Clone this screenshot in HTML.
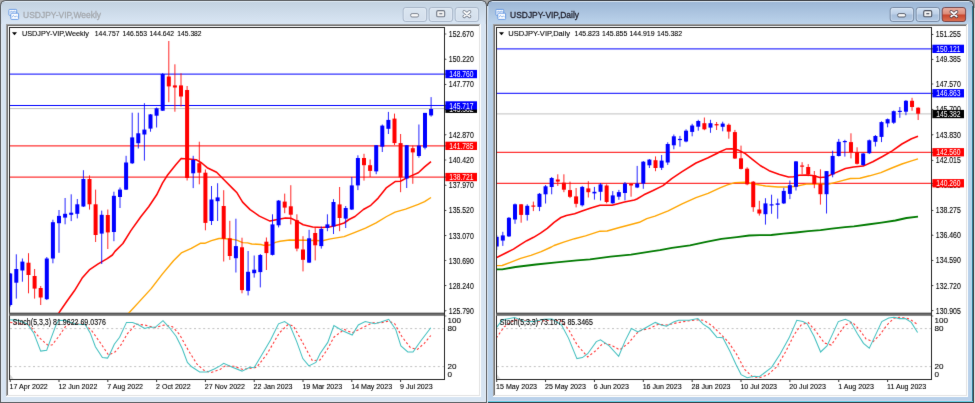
<!DOCTYPE html>
<html><head><meta charset="utf-8"><title>MT4 charts</title>
<style>html,body{margin:0;padding:0;background:#a9a9a9;width:975px;height:403px;overflow:hidden}</style>
</head><body><div>
<svg width="975" height="403" viewBox="0 0 975 403" style="display:block;font-family:'Liberation Sans',Arial,sans-serif">
<defs><filter id="bl" color-interpolation-filters="sRGB" x="0" y="0" width="1" height="1"><feConvolveMatrix order="3" edgeMode="duplicate" preserveAlpha="true" kernelMatrix="0.00524 0.06192 0.00524 0.06192 0.73137 0.06192 0.00524 0.06192 0.00524"/></filter></defs><g filter="url(#bl)">
<rect width="975" height="403" fill="#a9a9a9"/>
<defs><linearGradient id="tg0" x1="0" y1="0" x2="0" y2="1"><stop offset="0" stop-color="#c3d2e1"/><stop offset="1" stop-color="#d9e6f4"/></linearGradient></defs>
<path d="M0,403 L0,6 Q0,0 6,0 L481,0 Q487,0 487,6 L487,403 Z" fill="#5a5d60"/>
<path d="M1,402 L1,6.5 Q1,1 6.5,1 L480.5,1 Q486,1 486,6.5 L486,402 Z" fill="#d7e4f2"/>
<rect x="2" y="2" width="483" height="22" fill="url(#tg0)"/>
<rect x="5" y="1" width="477" height="1" fill="#e4eef8" opacity="0.8"/>
<rect x="485" y="24" width="1" height="378" fill="#e6eef8"/>
<rect x="1" y="24" width="1" height="378" fill="#e6eef8"/>
<rect x="1" y="401" width="485" height="1" fill="#e6eef8"/>
<rect x="6" y="24" width="475" height="373" fill="#ffffff"/>
<rect x="6" y="24" width="474" height="372" fill="#a0a0a0"/>
<rect x="7" y="25" width="473" height="371" fill="#e3e3e3"/>
<rect x="7" y="25" width="472" height="370" fill="#6e6e6e"/>
<rect x="8" y="26" width="471" height="369" fill="#ffffff"/>
<g transform="translate(8.4,8.9)" stroke-width="0.9">
<rect x="0.5" y="0.5" width="7.8" height="6" rx="0.8" fill="#ffffff" stroke="#5c93e2"/>
<path d="M1.5,3.5 L3,2.5 L4.5,3.2 L6,2.4 L7.3,3" fill="none" stroke="#5c93e2" stroke-width="0.8"/>
<rect x="2.4" y="4.3" width="7.8" height="6.2" rx="0.8" fill="#ffffff" stroke="#5c93e2"/>
<path d="M3.5,8.5 L5,6.5 L6.5,8.2 L8,7 L9.3,8.4" fill="none" stroke="#7aa8ea" stroke-width="0.8"/>
</g>
<text x="23.1" y="18.4" font-size="9.6" fill="#a3a7ac" textLength="77.9" lengthAdjust="spacingAndGlyphs" stroke="#a3a7ac" stroke-width="0.3">USDJPY-VIP,Weekly</text>
<defs><linearGradient id="bgi" x1="0" y1="0" x2="0" y2="1"><stop offset="0" stop-color="#dbe5f0"/><stop offset="1" stop-color="#d3dfec"/></linearGradient></defs>
<rect x="403.2" y="7.5" width="23.4" height="14" rx="2.5" fill="url(#bgi)" stroke="#a3b1c4" stroke-width="0.9"/>
<rect x="404.2" y="8.5" width="21.4" height="12" rx="1.8" fill="none" stroke="#eef4fb" stroke-opacity="0.6" stroke-width="0.6"/>
<rect x="410.6" y="13.6" width="8" height="3.4" rx="1.5" fill="#fafafa" stroke="#6f7785" stroke-width="0.9"/>
<defs><linearGradient id="bgi" x1="0" y1="0" x2="0" y2="1"><stop offset="0" stop-color="#dbe5f0"/><stop offset="1" stop-color="#d3dfec"/></linearGradient></defs>
<rect x="429.2" y="7.5" width="23.4" height="14" rx="2.5" fill="url(#bgi)" stroke="#a3b1c4" stroke-width="0.9"/>
<rect x="430.2" y="8.5" width="21.4" height="12" rx="1.8" fill="none" stroke="#eef4fb" stroke-opacity="0.6" stroke-width="0.6"/>
<rect x="436.7" y="10.6" width="8" height="6.2" rx="1.4" fill="#f4f4f4" stroke="#6f7785" stroke-width="1.1"/>
<rect x="439.3" y="13.1" width="3" height="1.2" fill="#6f7785"/>
<defs><linearGradient id="bgi" x1="0" y1="0" x2="0" y2="1"><stop offset="0" stop-color="#dbe5f0"/><stop offset="1" stop-color="#d3dfec"/></linearGradient></defs>
<rect x="455.2" y="7.5" width="23.4" height="14" rx="2.5" fill="url(#bgi)" stroke="#a3b1c4" stroke-width="0.9"/>
<rect x="456.2" y="8.5" width="21.4" height="12" rx="1.8" fill="none" stroke="#eef4fb" stroke-opacity="0.6" stroke-width="0.6"/>
<path d="M464.2,11.8 L469.6,16.4 M469.6,11.8 L464.2,16.4" stroke="#6f7785" stroke-width="3.4" stroke-linecap="round"/>
<path d="M464.2,11.8 L469.6,16.4 M469.6,11.8 L464.2,16.4" stroke="#ffffff" stroke-width="1.9" stroke-linecap="round"/>
<defs><linearGradient id="tg487" x1="0" y1="0" x2="0" y2="1"><stop offset="0" stop-color="#9db7d6"/><stop offset="1" stop-color="#bcd3eb"/></linearGradient></defs>
<path d="M487,403 L487,6 Q487,0 493,0 L968,0 Q974,0 974,6 L974,403 Z" fill="#3a3d42"/>
<path d="M488,402 L488,6.5 Q488,1 493.5,1 L967.5,1 Q973,1 973,6.5 L973,402 Z" fill="#b9d1ea"/>
<rect x="489" y="2" width="483" height="22" fill="url(#tg487)"/>
<rect x="492" y="1" width="477" height="1" fill="#e4eef8" opacity="0.8"/>
<rect x="971" y="24" width="1" height="378" fill="#b4def6"/>
<rect x="972" y="6" width="1" height="396" fill="#2a7890"/>
<rect x="488" y="400" width="484" height="1" fill="#cfd2ea"/>
<rect x="488" y="401" width="485" height="1" fill="#62d6ee"/>
<rect x="487" y="6" width="1" height="397" fill="#dde7f1"/>
<rect x="493" y="24" width="475" height="373" fill="#ffffff"/>
<rect x="493" y="24" width="474" height="372" fill="#a0a0a0"/>
<rect x="494" y="25" width="473" height="371" fill="#e3e3e3"/>
<rect x="494" y="25" width="472" height="370" fill="#6e6e6e"/>
<rect x="495" y="26" width="471" height="369" fill="#ffffff"/>
<g transform="translate(495.4,8.9)" stroke-width="0.9">
<rect x="0.5" y="0.5" width="7.8" height="6" rx="0.8" fill="#ffffff" stroke="#5c93e2"/>
<path d="M1.5,3.5 L3,2.5 L4.5,3.2 L6,2.4 L7.3,3" fill="none" stroke="#5c93e2" stroke-width="0.8"/>
<rect x="2.4" y="4.3" width="7.8" height="6.2" rx="0.8" fill="#ffffff" stroke="#5c93e2"/>
<path d="M3.5,8.5 L5,6.5 L6.5,8.2 L8,7 L9.3,8.4" fill="none" stroke="#7aa8ea" stroke-width="0.8"/>
</g>
<text x="510.1" y="18.4" font-size="9.6" fill="#20202c" textLength="68.9" lengthAdjust="spacingAndGlyphs" stroke="#20202c" stroke-width="0.3">USDJPY-VIP,Daily</text>
<defs><linearGradient id="bga" x1="0" y1="0" x2="0" y2="1"><stop offset="0" stop-color="#d2e1f2"/><stop offset="0.48" stop-color="#bccfe7"/><stop offset="0.52" stop-color="#a6bedb"/><stop offset="1" stop-color="#b4cae4"/></linearGradient></defs>
<rect x="890.2" y="7.5" width="23.4" height="14" rx="2.5" fill="url(#bga)" stroke="#71829c" stroke-width="0.9"/>
<rect x="891.2" y="8.5" width="21.4" height="12" rx="1.8" fill="none" stroke="#eef4fb" stroke-opacity="0.6" stroke-width="0.6"/>
<rect x="897.6" y="13.6" width="8" height="3.4" rx="1.5" fill="#fafafa" stroke="#4a505e" stroke-width="0.9"/>
<defs><linearGradient id="bga" x1="0" y1="0" x2="0" y2="1"><stop offset="0" stop-color="#d2e1f2"/><stop offset="0.48" stop-color="#bccfe7"/><stop offset="0.52" stop-color="#a6bedb"/><stop offset="1" stop-color="#b4cae4"/></linearGradient></defs>
<rect x="916.2" y="7.5" width="23.4" height="14" rx="2.5" fill="url(#bga)" stroke="#71829c" stroke-width="0.9"/>
<rect x="917.2" y="8.5" width="21.4" height="12" rx="1.8" fill="none" stroke="#eef4fb" stroke-opacity="0.6" stroke-width="0.6"/>
<rect x="923.7" y="10.6" width="8" height="6.2" rx="1.4" fill="#f4f4f4" stroke="#4a505e" stroke-width="1.1"/>
<rect x="926.3" y="13.1" width="3" height="1.2" fill="#4a505e"/>
<defs><linearGradient id="cg" x1="0" y1="0" x2="0" y2="1"><stop offset="0" stop-color="#eab0a3"/><stop offset="0.48" stop-color="#dc8a77"/><stop offset="0.52" stop-color="#c8442b"/><stop offset="1" stop-color="#dc7356"/></linearGradient></defs>
<rect x="942.2" y="7.5" width="23.4" height="14" rx="2.5" fill="url(#cg)" stroke="#6b3a3e" stroke-width="0.9"/>
<path d="M951.2,11.8 L956.6,16.4 M956.6,11.8 L951.2,16.4" stroke="#4b3a44" stroke-width="3.4" stroke-linecap="round"/>
<path d="M951.2,11.8 L956.6,16.4 M956.6,11.8 L951.2,16.4" stroke="#ffffff" stroke-width="1.9" stroke-linecap="round"/>
<rect x="974" y="8" width="1" height="395" fill="#e2e2e2"/>
<defs><clipPath id="cl0"><rect x="10" y="28" width="434" height="285"/></clipPath>
<clipPath id="scl0"><rect x="10" y="316" width="434" height="63"/></clipPath></defs>
<g shape-rendering="crispEdges">
<rect x="9" y="27" width="1" height="353" fill="#262626"/>
<rect x="9" y="27" width="435" height="1" fill="#262626"/>
<rect x="444" y="27" width="1" height="353" fill="#262626"/>
<rect x="9" y="379" width="436" height="1" fill="#262626"/>
</g>
<rect x="9" y="312.8" width="435" height="3" fill="#6c6c6c"/>
<rect x="9" y="312.8" width="435" height="0.9" fill="#4a4a4a"/>
<g clip-path="url(#cl0)">
<rect x="9" y="108.1" width="435" height="1" fill="#c0c0c0"/>
<rect x="9" y="73.6" width="435" height="1" fill="#0000ff"/>
<rect x="9" y="105" width="435" height="1" fill="#0000ff"/>
<rect x="9" y="145.4" width="435" height="1" fill="#ff0000"/>
<rect x="9" y="176.6" width="435" height="1" fill="#ff0000"/>
</g>
<g clip-path="url(#cl0)" fill="none" stroke-linejoin="round">
<polyline points="127,315 140,300.9 151.2,288.6 162.3,274.1 173.5,260.7 181.3,252.9 191.3,248.4 200.3,243.3 204.7,243.3 211.4,240.6 219,238.5 223.1,238.5 234.4,239.6 237.4,240.4 242.6,242.6 247.7,242.9 251.8,244 261,244.5 263.1,245.2 270.3,245 275.4,242.4 280,241.2 289.6,240 305.9,240.3 322.3,240.7 330.5,238.9 344.1,236.6 355,232.3 365.5,228.1 376.1,222.8 386.6,216.5 395.1,212.2 405.6,209.1 418.3,204.4 424.6,201.7 431,197.5" stroke="#ffa500" stroke-width="1.4"/>
<polyline points="58.7,313.1 66.9,301.2 74.4,290.8 82.6,277.4 89.3,269.9 98.2,263.9 107.2,258.7 112.4,255 115,251.4 122.9,243.5 130.9,230.6 140.8,216.7 148.7,206.7 156.7,194.8 162.6,182.9 167.6,175 175.6,164.9 181.2,158.4 188.6,158.9 196.1,159.7 201.7,163 207.2,167.7 216.6,172.3 224,179.8 233.3,189.1 237,192.8 242.6,202.1 250.1,209.6 259.4,216.1 270,221.1 278.6,219.3 285.5,217.9 290.9,218.2 296.4,220.9 303.2,224.7 312.7,227.1 322.3,227.5 330.5,226.7 338.7,224.7 344.1,223 349,219.5 355,216.5 363.4,209.5 370.8,205.3 378.2,198.1 386.6,187.6 395.1,181.6 400.4,181.2 407.7,177.4 418.3,172.8 424.6,166.9 431,161.6" stroke="#ff0000" stroke-width="1.55"/>
</g>
<g clip-path="url(#cl0)">
<rect x="9.7" y="273" width="1" height="33.5" fill="#0000ff" opacity="0.85"/>
<rect x="8.2" y="273.5" width="4" height="31.5" fill="#0000ff"/>
<rect x="15.8" y="254.3" width="1" height="44.3" fill="#0000ff" opacity="0.85"/>
<rect x="14.3" y="269" width="4" height="13.7" fill="#0000ff"/>
<rect x="21.9" y="258.5" width="1" height="23.2" fill="#0000ff" opacity="0.85"/>
<rect x="20.4" y="261.6" width="4" height="8.9" fill="#0000ff"/>
<rect x="28" y="253.2" width="1" height="40.1" fill="#ff0000" opacity="0.85"/>
<rect x="26.5" y="262.7" width="4" height="12.3" fill="#ff0000"/>
<rect x="34.1" y="269" width="1" height="29.6" fill="#ff0000" opacity="0.85"/>
<rect x="32.6" y="276" width="4" height="12.6" fill="#ff0000"/>
<rect x="40.2" y="286" width="1" height="19" fill="#ff0000" opacity="0.85"/>
<rect x="38.7" y="288" width="4" height="9.5" fill="#ff0000"/>
<rect x="46.3" y="257" width="1" height="43" fill="#0000ff" opacity="0.85"/>
<rect x="44.8" y="258.5" width="4" height="40.7" fill="#0000ff"/>
<rect x="52.4" y="219.7" width="1" height="43.6" fill="#0000ff" opacity="0.85"/>
<rect x="50.9" y="222.2" width="4" height="36.3" fill="#0000ff"/>
<rect x="58.5" y="210" width="1" height="42.8" fill="#0000ff" opacity="0.85"/>
<rect x="57" y="215.9" width="4" height="7.3" fill="#0000ff"/>
<rect x="64.6" y="198" width="1" height="26.3" fill="#0000ff" opacity="0.85"/>
<rect x="63.1" y="213.8" width="4" height="3.8" fill="#0000ff"/>
<rect x="70.7" y="194.3" width="1" height="26.8" fill="#0000ff" opacity="0.85"/>
<rect x="69.2" y="212.7" width="4" height="2.1" fill="#0000ff"/>
<rect x="76.8" y="199" width="1" height="19.4" fill="#0000ff" opacity="0.85"/>
<rect x="75.3" y="204.3" width="4" height="9.5" fill="#0000ff"/>
<rect x="82.9" y="170.2" width="1" height="36.8" fill="#0000ff" opacity="0.85"/>
<rect x="81.4" y="179" width="4" height="27.5" fill="#0000ff"/>
<rect x="89" y="175.4" width="1" height="34.2" fill="#ff0000" opacity="0.85"/>
<rect x="87.5" y="179" width="4" height="25.3" fill="#ff0000"/>
<rect x="95.1" y="189.6" width="1" height="52.4" fill="#ff0000" opacity="0.85"/>
<rect x="93.6" y="204.3" width="4" height="30.7" fill="#ff0000"/>
<rect x="101.2" y="210.6" width="1" height="53.4" fill="#0000ff" opacity="0.85"/>
<rect x="99.7" y="214.8" width="4" height="18.8" fill="#0000ff"/>
<rect x="107.3" y="209.5" width="1" height="39.5" fill="#ff0000" opacity="0.85"/>
<rect x="105.8" y="215" width="4" height="17.4" fill="#ff0000"/>
<rect x="113.4" y="191.7" width="1" height="49.5" fill="#0000ff" opacity="0.85"/>
<rect x="111.9" y="195.8" width="4" height="36.2" fill="#0000ff"/>
<rect x="119.5" y="187.5" width="1" height="20.5" fill="#0000ff" opacity="0.85"/>
<rect x="118" y="189.6" width="4" height="7.4" fill="#0000ff"/>
<rect x="125.6" y="155.8" width="1" height="34.2" fill="#0000ff" opacity="0.85"/>
<rect x="124.1" y="162.5" width="4" height="27.1" fill="#0000ff"/>
<rect x="131.7" y="112.7" width="1" height="51.3" fill="#0000ff" opacity="0.85"/>
<rect x="130.2" y="137.4" width="4" height="25.9" fill="#0000ff"/>
<rect x="137.8" y="112.7" width="1" height="35.8" fill="#0000ff" opacity="0.85"/>
<rect x="136.3" y="133.3" width="4" height="9.9" fill="#0000ff"/>
<rect x="143.9" y="103.2" width="1" height="57.4" fill="#0000ff" opacity="0.85"/>
<rect x="142.4" y="129.6" width="4" height="4.9" fill="#0000ff"/>
<rect x="150" y="114" width="1" height="17.7" fill="#0000ff" opacity="0.85"/>
<rect x="148.5" y="114.4" width="4" height="14.2" fill="#0000ff"/>
<rect x="156.1" y="107.5" width="1" height="20" fill="#0000ff" opacity="0.85"/>
<rect x="154.6" y="108.3" width="4" height="7.4" fill="#0000ff"/>
<rect x="162.2" y="73" width="1" height="38" fill="#0000ff" opacity="0.85"/>
<rect x="160.7" y="74" width="4" height="36.7" fill="#0000ff"/>
<rect x="168.3" y="41" width="1" height="61.2" fill="#ff0000" opacity="0.85"/>
<rect x="166.8" y="76.5" width="4" height="9.9" fill="#ff0000"/>
<rect x="174.4" y="64.3" width="1" height="47.4" fill="#ff0000" opacity="0.85"/>
<rect x="172.9" y="85.4" width="4" height="2.1" fill="#ff0000"/>
<rect x="180.5" y="73.3" width="1" height="33.2" fill="#ff0000" opacity="0.85"/>
<rect x="179" y="85.4" width="4" height="11.1" fill="#ff0000"/>
<rect x="186.6" y="86" width="1" height="94.5" fill="#ff0000" opacity="0.85"/>
<rect x="185.1" y="90" width="4" height="88" fill="#ff0000"/>
<rect x="192.7" y="155.8" width="1" height="32.3" fill="#0000ff" opacity="0.85"/>
<rect x="191.2" y="160" width="4" height="13.3" fill="#0000ff"/>
<rect x="198.8" y="141.7" width="1" height="42.6" fill="#ff0000" opacity="0.85"/>
<rect x="197.3" y="163.2" width="4" height="9.5" fill="#ff0000"/>
<rect x="204.9" y="169.5" width="1" height="60.8" fill="#ff0000" opacity="0.85"/>
<rect x="203.4" y="172.7" width="4" height="50.2" fill="#ff0000"/>
<rect x="211" y="186" width="1" height="39" fill="#0000ff" opacity="0.85"/>
<rect x="209.5" y="199.5" width="4" height="21.5" fill="#0000ff"/>
<rect x="217.1" y="183.2" width="1" height="37.8" fill="#0000ff" opacity="0.85"/>
<rect x="215.6" y="197.4" width="4" height="3.8" fill="#0000ff"/>
<rect x="223.2" y="190.2" width="1" height="71.3" fill="#ff0000" opacity="0.85"/>
<rect x="221.7" y="206" width="4" height="32.8" fill="#ff0000"/>
<rect x="229.3" y="220.8" width="1" height="39.1" fill="#ff0000" opacity="0.85"/>
<rect x="227.8" y="238.3" width="4" height="17.7" fill="#ff0000"/>
<rect x="235.4" y="218.7" width="1" height="53.8" fill="#0000ff" opacity="0.85"/>
<rect x="233.9" y="246.1" width="4" height="12.1" fill="#0000ff"/>
<rect x="241.5" y="237.7" width="1" height="55.6" fill="#ff0000" opacity="0.85"/>
<rect x="240" y="247.3" width="4" height="42.8" fill="#ff0000"/>
<rect x="247.6" y="251" width="1" height="44.4" fill="#0000ff" opacity="0.85"/>
<rect x="246.1" y="271.8" width="4" height="19" fill="#0000ff"/>
<rect x="253.7" y="255.5" width="1" height="22.1" fill="#0000ff" opacity="0.85"/>
<rect x="252.2" y="269.7" width="4" height="3.5" fill="#0000ff"/>
<rect x="259.8" y="254" width="1" height="33.4" fill="#0000ff" opacity="0.85"/>
<rect x="258.3" y="255" width="4" height="17.1" fill="#0000ff"/>
<rect x="265.9" y="237.5" width="1" height="32.5" fill="#ff0000" opacity="0.85"/>
<rect x="264.4" y="241.7" width="4" height="11.4" fill="#ff0000"/>
<rect x="272" y="214.3" width="1" height="41.2" fill="#0000ff" opacity="0.85"/>
<rect x="270.5" y="224.4" width="4" height="30.5" fill="#0000ff"/>
<rect x="278.1" y="200" width="1" height="27.4" fill="#0000ff" opacity="0.85"/>
<rect x="276.6" y="200.6" width="4" height="24.7" fill="#0000ff"/>
<rect x="284.2" y="193.6" width="1" height="19.6" fill="#ff0000" opacity="0.85"/>
<rect x="282.7" y="201.6" width="4" height="6" fill="#ff0000"/>
<rect x="290.3" y="185.2" width="1" height="39.2" fill="#ff0000" opacity="0.85"/>
<rect x="288.8" y="206.3" width="4" height="8.4" fill="#ff0000"/>
<rect x="296.4" y="214.3" width="1" height="37" fill="#ff0000" opacity="0.85"/>
<rect x="294.9" y="220.2" width="4" height="28.4" fill="#ff0000"/>
<rect x="302.5" y="236.2" width="1" height="35.2" fill="#ff0000" opacity="0.85"/>
<rect x="301" y="249.5" width="4" height="10.3" fill="#ff0000"/>
<rect x="308.6" y="229.8" width="1" height="33.2" fill="#0000ff" opacity="0.85"/>
<rect x="307.1" y="238.3" width="4" height="24.3" fill="#0000ff"/>
<rect x="314.7" y="227.4" width="1" height="33" fill="#ff0000" opacity="0.85"/>
<rect x="313.2" y="233" width="4" height="12.3" fill="#ff0000"/>
<rect x="320.8" y="226.5" width="1" height="22.1" fill="#0000ff" opacity="0.85"/>
<rect x="319.3" y="229" width="4" height="17.1" fill="#0000ff"/>
<rect x="326.9" y="214.3" width="1" height="16.9" fill="#0000ff" opacity="0.85"/>
<rect x="325.4" y="224.4" width="4" height="3.6" fill="#0000ff"/>
<rect x="333" y="199.2" width="1" height="34.8" fill="#0000ff" opacity="0.85"/>
<rect x="331.5" y="202" width="4" height="24.5" fill="#0000ff"/>
<rect x="339.1" y="187" width="1" height="44.2" fill="#ff0000" opacity="0.85"/>
<rect x="337.6" y="204.4" width="4" height="13.6" fill="#ff0000"/>
<rect x="345.2" y="206" width="1" height="22" fill="#0000ff" opacity="0.85"/>
<rect x="343.7" y="208" width="4" height="10.6" fill="#0000ff"/>
<rect x="351.3" y="177" width="1" height="33" fill="#0000ff" opacity="0.85"/>
<rect x="349.8" y="185.4" width="4" height="24.1" fill="#0000ff"/>
<rect x="357.4" y="155.3" width="1" height="34.8" fill="#0000ff" opacity="0.85"/>
<rect x="355.9" y="158" width="4" height="27.4" fill="#0000ff"/>
<rect x="363.5" y="153.8" width="1" height="26.8" fill="#ff0000" opacity="0.85"/>
<rect x="362" y="158" width="4" height="7.2" fill="#ff0000"/>
<rect x="369.6" y="159.5" width="1" height="17.5" fill="#ff0000" opacity="0.85"/>
<rect x="368.1" y="165.2" width="4" height="5.7" fill="#ff0000"/>
<rect x="375.7" y="145" width="1" height="29.2" fill="#0000ff" opacity="0.85"/>
<rect x="374.2" y="145.2" width="4" height="26.2" fill="#0000ff"/>
<rect x="381.8" y="124.5" width="1" height="27.5" fill="#0000ff" opacity="0.85"/>
<rect x="380.3" y="125.6" width="4" height="21.1" fill="#0000ff"/>
<rect x="387.9" y="111.9" width="1" height="22.1" fill="#0000ff" opacity="0.85"/>
<rect x="386.4" y="119.9" width="4" height="8.9" fill="#0000ff"/>
<rect x="394" y="113.6" width="1" height="31.4" fill="#ff0000" opacity="0.85"/>
<rect x="392.5" y="118.6" width="4" height="24.5" fill="#ff0000"/>
<rect x="400.1" y="134" width="1" height="58.2" fill="#ff0000" opacity="0.85"/>
<rect x="398.6" y="143.1" width="4" height="34.3" fill="#ff0000"/>
<rect x="406.2" y="145" width="1" height="43" fill="#0000ff" opacity="0.85"/>
<rect x="404.7" y="145.2" width="4" height="33.3" fill="#0000ff"/>
<rect x="412.3" y="145.6" width="1" height="38.2" fill="#ff0000" opacity="0.85"/>
<rect x="410.8" y="148.2" width="4" height="4.2" fill="#ff0000"/>
<rect x="418.4" y="124.5" width="1" height="33.2" fill="#0000ff" opacity="0.85"/>
<rect x="416.9" y="145.6" width="4" height="10.4" fill="#0000ff"/>
<rect x="424.5" y="112.9" width="1" height="36.5" fill="#0000ff" opacity="0.85"/>
<rect x="423" y="112.9" width="4" height="34.8" fill="#0000ff"/>
<rect x="430.6" y="97.1" width="1" height="19.5" fill="#0000ff" opacity="0.85"/>
<rect x="429.1" y="109" width="4" height="6.4" fill="#0000ff"/>
</g>
<path d="M12,32.2 h5 l-2.5,3 z" fill="#000"/>
<text x="21.9" y="36.3" font-size="8.1" fill="#000" textLength="67.1" lengthAdjust="spacingAndGlyphs" stroke="#000" stroke-width="0.1">USDJPY-VIP,Weekly</text>
<text x="94.8" y="36.3" font-size="8.1" fill="#000" textLength="24.7" lengthAdjust="spacingAndGlyphs" stroke="#000" stroke-width="0.1">144.757</text>
<text x="122.5" y="36.3" font-size="8.1" fill="#000" textLength="24.5" lengthAdjust="spacingAndGlyphs" stroke="#000" stroke-width="0.1">146.553</text>
<text x="149.6" y="36.3" font-size="8.1" fill="#000" textLength="24.5" lengthAdjust="spacingAndGlyphs" stroke="#000" stroke-width="0.1">144.642</text>
<text x="177.3" y="36.3" font-size="8.1" fill="#000" textLength="24.3" lengthAdjust="spacingAndGlyphs" stroke="#000" stroke-width="0.1">145.382</text>
<path d="M444.8,33.4 l2.2,0.6 l-2.2,0.6 z" fill="#222"/>
<text x="448.8" y="37" font-size="8.3" fill="#000" textLength="25" lengthAdjust="spacingAndGlyphs" stroke="#000" stroke-width="0.1">152.670</text>
<path d="M444.8,58.6 l2.2,0.6 l-2.2,0.6 z" fill="#222"/>
<text x="448.8" y="62.2" font-size="8.3" fill="#000" textLength="25" lengthAdjust="spacingAndGlyphs" stroke="#000" stroke-width="0.1">150.220</text>
<path d="M444.8,83.8 l2.2,0.6 l-2.2,0.6 z" fill="#222"/>
<text x="448.8" y="87.4" font-size="8.3" fill="#000" textLength="25" lengthAdjust="spacingAndGlyphs" stroke="#000" stroke-width="0.1">147.770</text>
<path d="M444.8,134.2 l2.2,0.6 l-2.2,0.6 z" fill="#222"/>
<text x="448.8" y="137.8" font-size="8.3" fill="#000" textLength="25" lengthAdjust="spacingAndGlyphs" stroke="#000" stroke-width="0.1">142.870</text>
<path d="M444.8,159.4 l2.2,0.6 l-2.2,0.6 z" fill="#222"/>
<text x="448.8" y="163" font-size="8.3" fill="#000" textLength="25" lengthAdjust="spacingAndGlyphs" stroke="#000" stroke-width="0.1">140.420</text>
<path d="M444.8,184.6 l2.2,0.6 l-2.2,0.6 z" fill="#222"/>
<text x="448.8" y="188.2" font-size="8.3" fill="#000" textLength="25" lengthAdjust="spacingAndGlyphs" stroke="#000" stroke-width="0.1">137.970</text>
<path d="M444.8,209.8 l2.2,0.6 l-2.2,0.6 z" fill="#222"/>
<text x="448.8" y="213.4" font-size="8.3" fill="#000" textLength="25" lengthAdjust="spacingAndGlyphs" stroke="#000" stroke-width="0.1">135.520</text>
<path d="M444.8,235 l2.2,0.6 l-2.2,0.6 z" fill="#222"/>
<text x="448.8" y="238.6" font-size="8.3" fill="#000" textLength="25" lengthAdjust="spacingAndGlyphs" stroke="#000" stroke-width="0.1">133.070</text>
<path d="M444.8,259.9 l2.2,0.6 l-2.2,0.6 z" fill="#222"/>
<text x="448.8" y="263.5" font-size="8.3" fill="#000" textLength="25" lengthAdjust="spacingAndGlyphs" stroke="#000" stroke-width="0.1">130.690</text>
<path d="M444.8,285 l2.2,0.6 l-2.2,0.6 z" fill="#222"/>
<text x="448.8" y="288.6" font-size="8.3" fill="#000" textLength="25" lengthAdjust="spacingAndGlyphs" stroke="#000" stroke-width="0.1">128.240</text>
<path d="M444.8,310.2 l2.2,0.6 l-2.2,0.6 z" fill="#222"/>
<text x="448.8" y="313.8" font-size="8.3" fill="#000" textLength="25" lengthAdjust="spacingAndGlyphs" stroke="#000" stroke-width="0.1">125.790</text>
<path d="M444.8,109.1 l2.2,0.6 l-2.2,0.6 z" fill="#222"/>
<text x="448.8" y="112.7" font-size="8.3" fill="#000" textLength="25" lengthAdjust="spacingAndGlyphs" stroke="#000" stroke-width="0.1">145.320</text>
<rect x="445.4" y="104.6" width="31.6" height="8.3" fill="#000"/>
<text x="449.2" y="111.8" font-size="8.3" fill="#fff" textLength="24.4" lengthAdjust="spacingAndGlyphs">145.382</text>
<path d="M444.8,73.5 l2.2,0.6 l-2.2,0.6 z" fill="#222"/>
<rect x="445.4" y="69.9" width="31.6" height="8.3" fill="#0000ff"/>
<text x="449.2" y="77.1" font-size="8.3" fill="#fff" textLength="24.4" lengthAdjust="spacingAndGlyphs">148.760</text>
<path d="M444.8,104.9 l2.2,0.6 l-2.2,0.6 z" fill="#222"/>
<rect x="445.4" y="101.3" width="31.6" height="8.3" fill="#0000ff"/>
<text x="449.2" y="108.5" font-size="8.3" fill="#fff" textLength="24.4" lengthAdjust="spacingAndGlyphs">145.717</text>
<path d="M444.8,145.3 l2.2,0.6 l-2.2,0.6 z" fill="#222"/>
<rect x="445.4" y="141.7" width="31.6" height="8.3" fill="#ff0000"/>
<text x="449.2" y="148.9" font-size="8.3" fill="#fff" textLength="24.4" lengthAdjust="spacingAndGlyphs">141.785</text>
<path d="M444.8,176.5 l2.2,0.6 l-2.2,0.6 z" fill="#222"/>
<rect x="445.4" y="172.9" width="31.6" height="8.3" fill="#ff0000"/>
<text x="449.2" y="180.1" font-size="8.3" fill="#fff" textLength="24.4" lengthAdjust="spacingAndGlyphs">138.721</text>
<rect x="9.7" y="379" width="1" height="3" fill="#333"/>
<text x="9.6" y="389.3" font-size="8" fill="#000" textLength="38.18" lengthAdjust="spacingAndGlyphs" stroke="#000" stroke-width="0.1">17 Apr 2022</text>
<rect x="58.5" y="379" width="1" height="3" fill="#333"/>
<text x="58.4" y="389.3" font-size="8" fill="#000" textLength="38.97" lengthAdjust="spacingAndGlyphs" stroke="#000" stroke-width="0.1">12 Jun 2022</text>
<rect x="107.3" y="379" width="1" height="3" fill="#333"/>
<text x="107.2" y="389.3" font-size="8" fill="#000" textLength="35.83" lengthAdjust="spacingAndGlyphs" stroke="#000" stroke-width="0.1">7 Aug 2022</text>
<rect x="156.1" y="379" width="1" height="3" fill="#333"/>
<text x="156" y="389.3" font-size="8" fill="#000" textLength="34.63" lengthAdjust="spacingAndGlyphs" stroke="#000" stroke-width="0.1">2 Oct 2022</text>
<rect x="204.9" y="379" width="1" height="3" fill="#333"/>
<text x="204.8" y="389.3" font-size="8" fill="#000" textLength="40.15" lengthAdjust="spacingAndGlyphs" stroke="#000" stroke-width="0.1">27 Nov 2022</text>
<rect x="253.7" y="379" width="1" height="3" fill="#333"/>
<text x="253.6" y="389.3" font-size="8" fill="#000" textLength="38.97" lengthAdjust="spacingAndGlyphs" stroke="#000" stroke-width="0.1">22 Jan 2023</text>
<rect x="302.5" y="379" width="1" height="3" fill="#333"/>
<text x="302.4" y="389.3" font-size="8" fill="#000" textLength="39.75" lengthAdjust="spacingAndGlyphs" stroke="#000" stroke-width="0.1">19 Mar 2023</text>
<rect x="351.3" y="379" width="1" height="3" fill="#333"/>
<text x="351.2" y="389.3" font-size="8" fill="#000" textLength="40.93" lengthAdjust="spacingAndGlyphs" stroke="#000" stroke-width="0.1">14 May 2023</text>
<rect x="400.1" y="379" width="1" height="3" fill="#333"/>
<text x="400" y="389.3" font-size="8" fill="#000" textLength="32.67" lengthAdjust="spacingAndGlyphs" stroke="#000" stroke-width="0.1">9 Jul 2023</text>
<line x1="10" y1="328.6" x2="444" y2="328.6" stroke="#c2c2c2" stroke-width="1" stroke-dasharray="2,2.6"/>
<line x1="10" y1="366.6" x2="444" y2="366.6" stroke="#c2c2c2" stroke-width="1" stroke-dasharray="2,2.6"/>
<g clip-path="url(#scl0)" fill="none">
<polyline points="10.2,322.4 29.3,325 39.8,338.1 47.6,345 52,345 58.9,336.3 65.9,325.9 71.1,323.3 85,324.2 92,331.1 100.7,343.3 108.5,355 115,352 120.4,345.9 127.4,333.7 136.1,324.2 144.8,325 155.2,327.7 163.9,325 172.6,326.8 179.6,334.6 188.3,350.3 197,364.2 203.9,370.3 210.9,372.5 220,369.4 225.4,365.9 234.1,366.3 242.8,369.4 256.7,367.3 267.2,353.7 279.3,332.9 288,324.5 293.3,325.9 300.2,338.1 312.4,360.7 320,360 327,350 333.9,337.2 344.3,329.4 352.2,332.9 363.5,327.3 372.2,322.8 380.9,322.8 388.7,321 394.8,323.8 401.7,336.3 410.4,347.7 417.4,349.4 424.3,343.3 430.8,335.5" stroke="#ff3a3a" stroke-width="1.1" stroke-dasharray="2.3,2.2"/>
<polyline points="10.2,319.8 19,320.5 27.6,324.2 33.7,332.9 40.7,351.1 46.7,350.3 51.1,338.1 56.3,324.2 58.9,320.3 65,320.6 74.6,323.8 81.5,324.5 85,324.2 90.2,332.9 95.4,346.8 102.4,357.6 107.6,358.1 110,353.7 114.3,344.2 119.6,337.2 126.5,322.4 132.6,322.4 137.8,324.5 144.8,328.5 149.1,327.3 155.2,327.3 163,320.7 169.1,327.3 176.1,336.3 182.2,348.5 187.4,362.4 191.7,366.8 199.6,372 207.4,372 214.3,369 220,365.9 223.7,363.3 232.4,367.3 242,371.1 249.8,367.3 254.1,367.7 262,354.6 270.7,339.8 278.5,323.8 284.6,321.6 289.8,325 296.7,341.6 302.8,358.6 308.9,365.9 315.9,362.4 320,353.7 327.8,342.4 333.9,325.6 342.6,330.8 352.2,335 358.3,325 365.2,321.6 374.8,323.8 380.9,322.1 388.7,319.3 395.7,329.4 400.9,345.9 407.8,352 413,352 420.9,340.7 430.8,327.7" stroke="#45c0c0" stroke-width="1.05"/>
</g>
<text x="12.8" y="324.5" font-size="8.5" fill="#000" textLength="93.1" lengthAdjust="spacingAndGlyphs" stroke="#000" stroke-width="0.1">Stoch(5,3,3) 81.9622 69.0376</text>
<text x="447.4" y="322.7" font-size="8.1" fill="#000" stroke="#000" stroke-width="0.1">100</text>
<text x="447.4" y="330.8" font-size="8.1" fill="#000" stroke="#000" stroke-width="0.1">80</text>
<text x="447.4" y="368.8" font-size="8.1" fill="#000" stroke="#000" stroke-width="0.1">20</text>
<text x="447.4" y="376.9" font-size="8.1" fill="#000" stroke="#000" stroke-width="0.1">0</text>
<path d="M444.8,315.4 l2.2,0.6 l-2.2,0.6 z" fill="#222"/>
<path d="M10,374.5 L10,378.8 L13.5,378.8 Z" fill="#d6d6d6"/>
<defs><clipPath id="cl487"><rect x="497" y="28" width="434" height="285"/></clipPath>
<clipPath id="scl487"><rect x="497" y="316" width="434" height="63"/></clipPath></defs>
<g shape-rendering="crispEdges">
<rect x="496" y="27" width="1" height="353" fill="#262626"/>
<rect x="496" y="27" width="435" height="1" fill="#262626"/>
<rect x="931" y="27" width="1" height="353" fill="#262626"/>
<rect x="496" y="379" width="436" height="1" fill="#262626"/>
</g>
<rect x="496" y="312.8" width="435" height="3" fill="#6c6c6c"/>
<rect x="496" y="312.8" width="435" height="0.9" fill="#4a4a4a"/>
<g clip-path="url(#cl487)">
<rect x="496" y="113.4" width="435" height="1" fill="#c0c0c0"/>
<rect x="496" y="48.4" width="435" height="1" fill="#0000ff"/>
<rect x="496" y="92.8" width="435" height="1" fill="#0000ff"/>
<rect x="496" y="151.8" width="435" height="1" fill="#ff0000"/>
<rect x="496" y="182.8" width="435" height="1" fill="#ff0000"/>
</g>
<g clip-path="url(#cl487)" fill="none" stroke-linejoin="round">
<polyline points="496.1,269.3 502.2,269.3 515.5,267 536,264.5 556.5,262.4 577,260.4 590,259.4 610.5,256.7 631,254.7 651.5,251.4 660,250.2 672,247.8 690,245.3 706.2,241.9 721.5,238.8 736.9,237.1 749.2,235.5 760,235.1 771.3,235 783.6,233.7 795.9,232.5 808.2,231.2 820.5,230.1 831.8,228.6 845.1,227.1 853.9,226.3 867.7,224.5 881.6,222.6 895.4,220.5 906.5,218 918,216.6" stroke="#007a00" stroke-width="1.8"/>
<polyline points="496.1,265.6 502.2,265.5 510.4,262.4 520.6,258.3 530.9,255.3 541.2,251.7 551.4,247 554.1,245.5 563.7,242.1 574.6,238.7 585.5,235.9 600,231.2 607.1,231 619.5,227.5 631.9,224.2 639.4,222.3 646.8,218.6 655,216.1 668.2,210.8 682.1,203.8 696,197.7 708.1,193.4 720,187.8 727.4,184.9 734.9,182.6 745.3,182.3 755.4,184.2 765.6,186 778,187 788.2,187 796,186.2 806.3,184.1 820,184.1 827.7,184.4 842.2,180.6 850.3,178.5 859.9,178.2 869.6,175.8 880.9,172.6 890.6,168.5 901.9,164 911.5,160.8 918,158.9" stroke="#ffa500" stroke-width="1.4"/>
<polyline points="496.1,257.8 505.3,253.2 513.5,249.1 520,244.8 526.8,240.7 533.6,237.3 540.5,233.2 547.3,228.4 554.1,222.3 560.9,217.5 566.4,215.5 574.6,213.8 582.8,210.7 590.9,208 600,205.2 612.1,205.2 624.5,201.9 634.4,200 636.9,199 643.9,194.8 652.6,190.8 663,185.6 671.7,178.6 682.1,171.7 696,163 708.1,157.8 716.8,153.5 720,151.7 726,149.1 731.9,148.7 737.9,149.9 745.3,153.6 752.7,159.6 760.2,165.5 769.1,170.7 779.5,174.4 788.5,177 793.7,176.7 798.9,175.2 806.3,174.9 812.3,175.5 820,177.4 826.1,176.9 834.1,173.4 845.4,168.5 853.5,166.9 863.2,166.1 872.8,161.8 882.5,156.5 892.2,150.8 901.9,144 911.5,138.7 918,136.3" stroke="#ff0000" stroke-width="1.55"/>
</g>
<g clip-path="url(#cl487)">
<rect x="496.2" y="235" width="1" height="15" fill="#0000ff" opacity="0.85"/>
<rect x="494.7" y="236.8" width="4" height="9.7" fill="#0000ff"/>
<rect x="502.31" y="231.8" width="1" height="14.1" fill="#0000ff" opacity="0.85"/>
<rect x="500.81" y="235.4" width="4" height="5.2" fill="#0000ff"/>
<rect x="508.42" y="217" width="1" height="20" fill="#0000ff" opacity="0.85"/>
<rect x="506.92" y="217.8" width="4" height="18.6" fill="#0000ff"/>
<rect x="514.52" y="203.5" width="1" height="20.3" fill="#0000ff" opacity="0.85"/>
<rect x="513.02" y="204.3" width="4" height="15.2" fill="#0000ff"/>
<rect x="520.63" y="204" width="1" height="18.7" fill="#ff0000" opacity="0.85"/>
<rect x="519.13" y="204.3" width="4" height="10.6" fill="#ff0000"/>
<rect x="526.74" y="204.3" width="1" height="16.3" fill="#0000ff" opacity="0.85"/>
<rect x="525.24" y="205.8" width="4" height="9.1" fill="#0000ff"/>
<rect x="532.85" y="201.6" width="1" height="9.5" fill="#ff0000" opacity="0.85"/>
<rect x="531.35" y="205.5" width="4" height="1.2" fill="#ff0000"/>
<rect x="538.96" y="193" width="1" height="18.1" fill="#0000ff" opacity="0.85"/>
<rect x="537.46" y="193.8" width="4" height="13.1" fill="#0000ff"/>
<rect x="545.06" y="185" width="1" height="18.5" fill="#0000ff" opacity="0.85"/>
<rect x="543.56" y="186.3" width="4" height="8" fill="#0000ff"/>
<rect x="551.17" y="177" width="1" height="17.3" fill="#0000ff" opacity="0.85"/>
<rect x="549.67" y="178" width="4" height="9" fill="#0000ff"/>
<rect x="557.28" y="174.3" width="1" height="11.6" fill="#ff0000" opacity="0.85"/>
<rect x="555.78" y="179.5" width="4" height="2.1" fill="#ff0000"/>
<rect x="563.39" y="174.3" width="1" height="17.9" fill="#ff0000" opacity="0.85"/>
<rect x="561.89" y="182.7" width="4" height="7" fill="#ff0000"/>
<rect x="569.5" y="181.6" width="1" height="16.5" fill="#ff0000" opacity="0.85"/>
<rect x="568" y="190.1" width="4" height="6.7" fill="#ff0000"/>
<rect x="575.6" y="188" width="1" height="19.4" fill="#ff0000" opacity="0.85"/>
<rect x="574.1" y="196.4" width="4" height="7.4" fill="#ff0000"/>
<rect x="581.71" y="185.9" width="1" height="20.6" fill="#0000ff" opacity="0.85"/>
<rect x="580.21" y="186.9" width="4" height="18.4" fill="#0000ff"/>
<rect x="587.82" y="181.2" width="1" height="16.3" fill="#ff0000" opacity="0.85"/>
<rect x="586.32" y="188.4" width="4" height="3.8" fill="#ff0000"/>
<rect x="593.93" y="186.9" width="1" height="12.7" fill="#0000ff" opacity="0.85"/>
<rect x="592.43" y="191.8" width="4" height="1.6" fill="#0000ff"/>
<rect x="600.04" y="183" width="1" height="17.5" fill="#0000ff" opacity="0.85"/>
<rect x="598.54" y="184.4" width="4" height="7.4" fill="#0000ff"/>
<rect x="606.14" y="184.3" width="1" height="19" fill="#ff0000" opacity="0.85"/>
<rect x="604.64" y="185.5" width="4" height="16.5" fill="#ff0000"/>
<rect x="612.25" y="191.1" width="1" height="12.6" fill="#0000ff" opacity="0.85"/>
<rect x="610.75" y="195.4" width="4" height="7.9" fill="#0000ff"/>
<rect x="618.36" y="189.9" width="1" height="9.9" fill="#0000ff" opacity="0.85"/>
<rect x="616.86" y="192.1" width="4" height="4.6" fill="#0000ff"/>
<rect x="624.47" y="182" width="1" height="18.4" fill="#0000ff" opacity="0.85"/>
<rect x="622.97" y="183.5" width="4" height="9.5" fill="#0000ff"/>
<rect x="630.58" y="183.4" width="1" height="13.3" fill="#ff0000" opacity="0.85"/>
<rect x="629.08" y="183.9" width="4" height="1.6" fill="#ff0000"/>
<rect x="636.68" y="165.9" width="1" height="22.2" fill="#0000ff" opacity="0.85"/>
<rect x="635.18" y="183.5" width="4" height="4" fill="#0000ff"/>
<rect x="642.79" y="161" width="1" height="27.8" fill="#0000ff" opacity="0.85"/>
<rect x="641.29" y="161.7" width="4" height="21.9" fill="#0000ff"/>
<rect x="648.9" y="159" width="1" height="9" fill="#0000ff" opacity="0.85"/>
<rect x="647.4" y="159.6" width="4" height="5.7" fill="#0000ff"/>
<rect x="655.01" y="156.4" width="1" height="14.8" fill="#ff0000" opacity="0.85"/>
<rect x="653.51" y="160.2" width="4" height="7.8" fill="#ff0000"/>
<rect x="661.12" y="155" width="1" height="15" fill="#0000ff" opacity="0.85"/>
<rect x="659.62" y="160.6" width="4" height="7.2" fill="#0000ff"/>
<rect x="667.22" y="142.3" width="1" height="22.6" fill="#0000ff" opacity="0.85"/>
<rect x="665.72" y="144" width="4" height="18.5" fill="#0000ff"/>
<rect x="673.33" y="134.5" width="1" height="14.8" fill="#0000ff" opacity="0.85"/>
<rect x="671.83" y="136.3" width="4" height="9" fill="#0000ff"/>
<rect x="679.44" y="135.9" width="1" height="10.8" fill="#0000ff" opacity="0.85"/>
<rect x="677.94" y="138.9" width="4" height="1.2" fill="#0000ff"/>
<rect x="685.55" y="129.3" width="1" height="13" fill="#0000ff" opacity="0.85"/>
<rect x="684.05" y="130.7" width="4" height="10.8" fill="#0000ff"/>
<rect x="691.66" y="123.8" width="1" height="12.5" fill="#0000ff" opacity="0.85"/>
<rect x="690.16" y="125.5" width="4" height="6.4" fill="#0000ff"/>
<rect x="697.76" y="119.8" width="1" height="10.9" fill="#0000ff" opacity="0.85"/>
<rect x="696.26" y="121" width="4" height="5.7" fill="#0000ff"/>
<rect x="703.87" y="117.5" width="1" height="12.7" fill="#ff0000" opacity="0.85"/>
<rect x="702.37" y="123.2" width="4" height="6.1" fill="#ff0000"/>
<rect x="709.98" y="119.8" width="1" height="13" fill="#0000ff" opacity="0.85"/>
<rect x="708.48" y="123.2" width="4" height="4.4" fill="#0000ff"/>
<rect x="716.09" y="122" width="1" height="8" fill="#ff0000" opacity="0.85"/>
<rect x="714.59" y="124.1" width="4" height="1.3" fill="#ff0000"/>
<rect x="722.2" y="121.7" width="1" height="9.6" fill="#0000ff" opacity="0.85"/>
<rect x="720.7" y="123.6" width="4" height="3.2" fill="#0000ff"/>
<rect x="728.3" y="123.5" width="1" height="15.2" fill="#ff0000" opacity="0.85"/>
<rect x="726.8" y="124.8" width="4" height="6.8" fill="#ff0000"/>
<rect x="734.41" y="129.9" width="1" height="29.1" fill="#ff0000" opacity="0.85"/>
<rect x="732.91" y="132.1" width="4" height="26.4" fill="#ff0000"/>
<rect x="740.52" y="145.6" width="1" height="23.9" fill="#ff0000" opacity="0.85"/>
<rect x="739.02" y="158.3" width="4" height="10.6" fill="#ff0000"/>
<rect x="746.63" y="167.3" width="1" height="17.9" fill="#ff0000" opacity="0.85"/>
<rect x="745.13" y="168.7" width="4" height="15.6" fill="#ff0000"/>
<rect x="752.74" y="181" width="1" height="30.8" fill="#ff0000" opacity="0.85"/>
<rect x="751.24" y="181.7" width="4" height="25.5" fill="#ff0000"/>
<rect x="758.84" y="200.8" width="1" height="14.8" fill="#ff0000" opacity="0.85"/>
<rect x="757.34" y="209.5" width="4" height="4" fill="#ff0000"/>
<rect x="764.95" y="198.2" width="1" height="26.4" fill="#0000ff" opacity="0.85"/>
<rect x="763.45" y="203.4" width="4" height="10.8" fill="#0000ff"/>
<rect x="771.06" y="194.7" width="1" height="19.1" fill="#0000ff" opacity="0.85"/>
<rect x="769.56" y="204.3" width="4" height="1.2" fill="#0000ff"/>
<rect x="777.17" y="198.6" width="1" height="20.1" fill="#0000ff" opacity="0.85"/>
<rect x="775.67" y="203.4" width="4" height="1.4" fill="#0000ff"/>
<rect x="783.28" y="187.8" width="1" height="16.2" fill="#0000ff" opacity="0.85"/>
<rect x="781.78" y="190.9" width="4" height="12.5" fill="#0000ff"/>
<rect x="789.38" y="180.5" width="1" height="18.6" fill="#0000ff" opacity="0.85"/>
<rect x="787.88" y="185.2" width="4" height="8.7" fill="#0000ff"/>
<rect x="795.49" y="161" width="1" height="29.5" fill="#0000ff" opacity="0.85"/>
<rect x="793.99" y="161.4" width="4" height="25.4" fill="#0000ff"/>
<rect x="801.6" y="162.2" width="1" height="12" fill="#ff0000" opacity="0.85"/>
<rect x="800.1" y="165.5" width="4" height="1.2" fill="#ff0000"/>
<rect x="807.71" y="164.1" width="1" height="12.1" fill="#ff0000" opacity="0.85"/>
<rect x="806.21" y="167" width="4" height="7.5" fill="#ff0000"/>
<rect x="813.82" y="171" width="1" height="17.2" fill="#ff0000" opacity="0.85"/>
<rect x="812.32" y="175.2" width="4" height="8.9" fill="#ff0000"/>
<rect x="819.92" y="169.3" width="1" height="35.3" fill="#ff0000" opacity="0.85"/>
<rect x="818.42" y="184.1" width="4" height="10.1" fill="#ff0000"/>
<rect x="826.03" y="171" width="1" height="42.5" fill="#0000ff" opacity="0.85"/>
<rect x="824.53" y="171.1" width="4" height="23.1" fill="#0000ff"/>
<rect x="832.14" y="150.7" width="1" height="26.6" fill="#0000ff" opacity="0.85"/>
<rect x="830.64" y="155.9" width="4" height="18.6" fill="#0000ff"/>
<rect x="838.25" y="138.9" width="1" height="17.6" fill="#0000ff" opacity="0.85"/>
<rect x="836.75" y="141.8" width="4" height="14.2" fill="#0000ff"/>
<rect x="844.36" y="139.8" width="1" height="16.8" fill="#0000ff" opacity="0.85"/>
<rect x="842.86" y="141" width="4" height="1.2" fill="#0000ff"/>
<rect x="850.46" y="133.3" width="1" height="25.1" fill="#ff0000" opacity="0.85"/>
<rect x="848.96" y="142.1" width="4" height="10.3" fill="#ff0000"/>
<rect x="856.57" y="147.3" width="1" height="17.2" fill="#ff0000" opacity="0.85"/>
<rect x="855.07" y="152.2" width="4" height="11.6" fill="#ff0000"/>
<rect x="862.68" y="153" width="1" height="13" fill="#0000ff" opacity="0.85"/>
<rect x="861.18" y="153.5" width="4" height="11.5" fill="#0000ff"/>
<rect x="868.79" y="139.5" width="1" height="14.5" fill="#0000ff" opacity="0.85"/>
<rect x="867.29" y="140.3" width="4" height="12.9" fill="#0000ff"/>
<rect x="874.9" y="135" width="1" height="11.5" fill="#0000ff" opacity="0.85"/>
<rect x="873.4" y="136" width="4" height="5.8" fill="#0000ff"/>
<rect x="881" y="121.3" width="1" height="20.8" fill="#0000ff" opacity="0.85"/>
<rect x="879.5" y="122.1" width="4" height="14.8" fill="#0000ff"/>
<rect x="887.11" y="118.5" width="1" height="8.8" fill="#0000ff" opacity="0.85"/>
<rect x="885.61" y="119.2" width="4" height="4.2" fill="#0000ff"/>
<rect x="893.22" y="110.5" width="1" height="13.4" fill="#0000ff" opacity="0.85"/>
<rect x="891.72" y="111.2" width="4" height="11.5" fill="#0000ff"/>
<rect x="899.33" y="107" width="1" height="10.8" fill="#0000ff" opacity="0.85"/>
<rect x="897.83" y="110.8" width="4" height="1.2" fill="#0000ff"/>
<rect x="905.44" y="100" width="1" height="15.2" fill="#0000ff" opacity="0.85"/>
<rect x="903.94" y="100.8" width="4" height="10.9" fill="#0000ff"/>
<rect x="911.54" y="97.8" width="1" height="13" fill="#ff0000" opacity="0.85"/>
<rect x="910.04" y="100.8" width="4" height="6.2" fill="#ff0000"/>
<rect x="917.65" y="107.3" width="1" height="12.7" fill="#ff0000" opacity="0.85"/>
<rect x="916.15" y="107.7" width="4" height="6" fill="#ff0000"/>
</g>
<path d="M499,32.2 h5 l-2.5,3 z" fill="#000"/>
<text x="508.3" y="36.3" font-size="8.1" fill="#000" textLength="61.6" lengthAdjust="spacingAndGlyphs" stroke="#000" stroke-width="0.1">USDJPY-VIP,Daily</text>
<text x="574.6" y="36.3" font-size="8.1" fill="#000" textLength="25" lengthAdjust="spacingAndGlyphs" stroke="#000" stroke-width="0.1">145.823</text>
<text x="602.1" y="36.3" font-size="8.1" fill="#000" textLength="25.2" lengthAdjust="spacingAndGlyphs" stroke="#000" stroke-width="0.1">145.855</text>
<text x="629.4" y="36.3" font-size="8.1" fill="#000" textLength="25.2" lengthAdjust="spacingAndGlyphs" stroke="#000" stroke-width="0.1">144.919</text>
<text x="657" y="36.3" font-size="8.1" fill="#000" textLength="25.1" lengthAdjust="spacingAndGlyphs" stroke="#000" stroke-width="0.1">145.382</text>
<path d="M931.8,33.8 l2.2,0.6 l-2.2,0.6 z" fill="#222"/>
<text x="935.8" y="37.4" font-size="8.3" fill="#000" textLength="25" lengthAdjust="spacingAndGlyphs" stroke="#000" stroke-width="0.1">151.255</text>
<path d="M931.8,58.7 l2.2,0.6 l-2.2,0.6 z" fill="#222"/>
<text x="935.8" y="62.3" font-size="8.3" fill="#000" textLength="25" lengthAdjust="spacingAndGlyphs" stroke="#000" stroke-width="0.1">149.385</text>
<path d="M931.8,83.4 l2.2,0.6 l-2.2,0.6 z" fill="#222"/>
<text x="935.8" y="87" font-size="8.3" fill="#000" textLength="25" lengthAdjust="spacingAndGlyphs" stroke="#000" stroke-width="0.1">147.570</text>
<path d="M931.8,134.2 l2.2,0.6 l-2.2,0.6 z" fill="#222"/>
<text x="935.8" y="137.8" font-size="8.3" fill="#000" textLength="25" lengthAdjust="spacingAndGlyphs" stroke="#000" stroke-width="0.1">143.830</text>
<path d="M931.8,159.7 l2.2,0.6 l-2.2,0.6 z" fill="#222"/>
<text x="935.8" y="163.3" font-size="8.3" fill="#000" textLength="25" lengthAdjust="spacingAndGlyphs" stroke="#000" stroke-width="0.1">142.015</text>
<path d="M931.8,209.8 l2.2,0.6 l-2.2,0.6 z" fill="#222"/>
<text x="935.8" y="213.4" font-size="8.3" fill="#000" textLength="25" lengthAdjust="spacingAndGlyphs" stroke="#000" stroke-width="0.1">138.275</text>
<path d="M931.8,234.6 l2.2,0.6 l-2.2,0.6 z" fill="#222"/>
<text x="935.8" y="238.2" font-size="8.3" fill="#000" textLength="25" lengthAdjust="spacingAndGlyphs" stroke="#000" stroke-width="0.1">136.460</text>
<path d="M931.8,259.8 l2.2,0.6 l-2.2,0.6 z" fill="#222"/>
<text x="935.8" y="263.4" font-size="8.3" fill="#000" textLength="25" lengthAdjust="spacingAndGlyphs" stroke="#000" stroke-width="0.1">134.590</text>
<path d="M931.8,285.1 l2.2,0.6 l-2.2,0.6 z" fill="#222"/>
<text x="935.8" y="288.7" font-size="8.3" fill="#000" textLength="25" lengthAdjust="spacingAndGlyphs" stroke="#000" stroke-width="0.1">132.720</text>
<path d="M931.8,310.1 l2.2,0.6 l-2.2,0.6 z" fill="#222"/>
<text x="935.8" y="313.7" font-size="8.3" fill="#000" textLength="25" lengthAdjust="spacingAndGlyphs" stroke="#000" stroke-width="0.1">130.905</text>
<path d="M931.8,108.7 l2.2,0.6 l-2.2,0.6 z" fill="#222"/>
<text x="935.8" y="112.3" font-size="8.3" fill="#000" textLength="25" lengthAdjust="spacingAndGlyphs" stroke="#000" stroke-width="0.1">145.700</text>
<path d="M931.8,184.6 l2.2,0.6 l-2.2,0.6 z" fill="#222"/>
<text x="935.8" y="188.2" font-size="8.3" fill="#000" textLength="25" lengthAdjust="spacingAndGlyphs" stroke="#000" stroke-width="0.1">140.200</text>
<rect x="932.4" y="109.9" width="31.6" height="8.3" fill="#000"/>
<text x="936.2" y="117.1" font-size="8.3" fill="#fff" textLength="24.4" lengthAdjust="spacingAndGlyphs">145.382</text>
<path d="M931.8,48.3 l2.2,0.6 l-2.2,0.6 z" fill="#222"/>
<rect x="932.4" y="44.7" width="31.6" height="8.3" fill="#0000ff"/>
<text x="936.2" y="51.9" font-size="8.3" fill="#fff" textLength="24.4" lengthAdjust="spacingAndGlyphs">150.121</text>
<path d="M931.8,92.7 l2.2,0.6 l-2.2,0.6 z" fill="#222"/>
<rect x="932.4" y="89.1" width="31.6" height="8.3" fill="#0000ff"/>
<text x="936.2" y="96.3" font-size="8.3" fill="#fff" textLength="24.4" lengthAdjust="spacingAndGlyphs">146.863</text>
<path d="M931.8,151.7 l2.2,0.6 l-2.2,0.6 z" fill="#222"/>
<rect x="932.4" y="148.1" width="31.6" height="8.3" fill="#ff0000"/>
<text x="936.2" y="155.3" font-size="8.3" fill="#fff" textLength="24.4" lengthAdjust="spacingAndGlyphs">142.560</text>
<path d="M931.8,182.7 l2.2,0.6 l-2.2,0.6 z" fill="#222"/>
<rect x="932.4" y="179.1" width="31.6" height="8.3" fill="#ff0000"/>
<text x="936.2" y="186.3" font-size="8.3" fill="#fff" textLength="24.4" lengthAdjust="spacingAndGlyphs">140.260</text>
<rect x="496.2" y="379" width="1" height="3" fill="#333"/>
<text x="496.1" y="389.3" font-size="8" fill="#000" textLength="40.93" lengthAdjust="spacingAndGlyphs" stroke="#000" stroke-width="0.1">15 May 2023</text>
<rect x="545.06" y="379" width="1" height="3" fill="#333"/>
<text x="544.96" y="389.3" font-size="8" fill="#000" textLength="40.93" lengthAdjust="spacingAndGlyphs" stroke="#000" stroke-width="0.1">25 May 2023</text>
<rect x="593.93" y="379" width="1" height="3" fill="#333"/>
<text x="593.83" y="389.3" font-size="8" fill="#000" textLength="35.03" lengthAdjust="spacingAndGlyphs" stroke="#000" stroke-width="0.1">6 Jun 2023</text>
<rect x="642.79" y="379" width="1" height="3" fill="#333"/>
<text x="642.69" y="389.3" font-size="8" fill="#000" textLength="38.97" lengthAdjust="spacingAndGlyphs" stroke="#000" stroke-width="0.1">16 Jun 2023</text>
<rect x="691.66" y="379" width="1" height="3" fill="#333"/>
<text x="691.56" y="389.3" font-size="8" fill="#000" textLength="38.97" lengthAdjust="spacingAndGlyphs" stroke="#000" stroke-width="0.1">28 Jun 2023</text>
<rect x="740.52" y="379" width="1" height="3" fill="#333"/>
<text x="740.42" y="389.3" font-size="8" fill="#000" textLength="36.61" lengthAdjust="spacingAndGlyphs" stroke="#000" stroke-width="0.1">10 Jul 2023</text>
<rect x="789.38" y="379" width="1" height="3" fill="#333"/>
<text x="789.28" y="389.3" font-size="8" fill="#000" textLength="36.61" lengthAdjust="spacingAndGlyphs" stroke="#000" stroke-width="0.1">20 Jul 2023</text>
<rect x="838.25" y="379" width="1" height="3" fill="#333"/>
<text x="838.15" y="389.3" font-size="8" fill="#000" textLength="35.83" lengthAdjust="spacingAndGlyphs" stroke="#000" stroke-width="0.1">1 Aug 2023</text>
<rect x="887.11" y="379" width="1" height="3" fill="#333"/>
<text x="887.01" y="389.3" font-size="8" fill="#000" textLength="39.24" lengthAdjust="spacingAndGlyphs" stroke="#000" stroke-width="0.1">11 Aug 2023</text>
<line x1="497" y1="328.6" x2="931" y2="328.6" stroke="#c2c2c2" stroke-width="1" stroke-dasharray="2,2.6"/>
<line x1="497" y1="366.6" x2="931" y2="366.6" stroke="#c2c2c2" stroke-width="1" stroke-dasharray="2,2.6"/>
<g clip-path="url(#scl487)" fill="none">
<polyline points="496.3,338.1 504.2,326.8 514.6,319.8 526.8,320.7 537.2,321.6 551.1,319.8 561.6,321 568.5,329.4 577.2,345 587.7,356.9 596.3,350.3 602,344.2 605.7,343.3 612.7,345.9 619.6,349.9 628.3,343.3 638.7,331.1 649.2,328.5 657.9,324.5 666.6,325 677,322.8 687.4,321 697.9,319.8 703.7,320.3 712.4,325.9 719.4,332.9 728.1,341.6 736.8,354.6 744.6,369.4 752.4,376.7 759.4,377.7 768.1,374.6 776.8,366.8 785.5,352 794.2,334.6 801.1,325 808.1,322.4 815.7,331.1 824.4,343 831.3,345 838.3,334.6 845.3,325 852.2,322.1 859.2,329.4 866.1,339 873.1,341.6 880,334.6 887,325 894,318.1 900.9,317.2 909.6,319 917.6,324.5" stroke="#ff3a3a" stroke-width="1.1" stroke-dasharray="2.3,2.2"/>
<polyline points="496.3,327.7 502.4,319.8 514.6,317.6 523.3,321 533.7,321.6 544.2,319.3 552,319 561.6,325 568.5,338.1 576.9,358.6 582.4,357.6 587.7,353.7 596.3,341.6 600.5,339.8 609.2,345.9 618.7,356.3 624.8,341.6 631.4,328.5 637.9,332 645.7,327.7 655.3,322.4 661.3,325 666.6,326.3 673.5,322.1 678.7,320.3 689.2,320.3 697.9,318.6 703.1,324.2 709,328 716.8,337.2 722.9,337.7 729.8,351.1 735.9,364.2 741.1,374.6 747.2,377.7 754.2,376.3 759.4,376.7 771.6,367.3 780.3,353.7 789,338.1 796.8,320.3 802.9,321.6 807.2,323.8 814,336.3 820.6,352 827,345.9 833.1,332.9 838.3,321.6 845.3,319.3 850.5,321.6 857.4,333.7 863.5,343.3 869.3,348.2 875.7,334.6 881.8,321.6 888.7,318.1 894,317.2 899.2,318.6 905.3,318.6 911.3,322.4 917.6,332.5" stroke="#45c0c0" stroke-width="1.05"/>
</g>
<text x="499.8" y="324.5" font-size="8.5" fill="#000" textLength="93.1" lengthAdjust="spacingAndGlyphs" stroke="#000" stroke-width="0.1">Stoch(5,3,3) 73.1075 85.3465</text>
<text x="934.4" y="322.7" font-size="8.1" fill="#000" stroke="#000" stroke-width="0.1">100</text>
<text x="934.4" y="330.8" font-size="8.1" fill="#000" stroke="#000" stroke-width="0.1">80</text>
<text x="934.4" y="368.8" font-size="8.1" fill="#000" stroke="#000" stroke-width="0.1">20</text>
<text x="934.4" y="376.9" font-size="8.1" fill="#000" stroke="#000" stroke-width="0.1">0</text>
<path d="M931.8,315.4 l2.2,0.6 l-2.2,0.6 z" fill="#222"/>
<path d="M497,374.5 L497,378.8 L500.5,378.8 Z" fill="#d6d6d6"/>
</g></svg>
</div></body></html>
